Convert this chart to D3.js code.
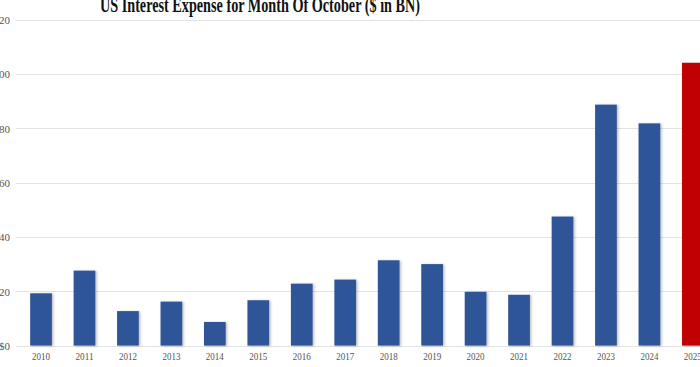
<!DOCTYPE html>
<html>
<head>
<meta charset="utf-8">
<script src="https://cdn.jsdelivr.net/npm/d3@7"></script>
<style>
  html, body { margin: 0; padding: 0; background: #fff; overflow: hidden; }
  svg { display: block; }
</style>
</head>
<body>
<svg id="chart" width="700" height="367"></svg>
<script>
const titleText = "US Interest Expense for Month Of October ($ in BN)";
const years = ["2010","2011","2012","2013","2014","2015","2016","2017","2018","2019","2020","2021","2022","2023","2024","2025"];
const values = [19.25, 27.6, 12.7, 16.2, 8.7, 16.7, 22.8, 24.3, 31.4, 30.0, 19.8, 18.7, 47.5, 88.7, 81.8, 104.1];
const yTicks = [0, 20, 40, 60, 80, 100, 120];
const highlightYear = "2025";

const svg = d3.select("#chart");
const W = 700, H = 367;

const x = d3.scaleBand()
  .domain(years)
  .range([19.3, 714.6])
  .paddingInner(0.5)
  .paddingOuter(0.25);

const y = d3.scaleLinear()
  .domain([0, 120])
  .range([345.6, 19.6]);

const defs = svg.append("defs");
const f = defs.append("filter").attr("id", "shadow")
  .attr("x", "-20%").attr("y", "-5%").attr("width", "150%").attr("height", "115%");
f.append("feDropShadow").attr("dx", 1.5).attr("dy", 0.5).attr("stdDeviation", 0.8)
  .attr("flood-color", "#000").attr("flood-opacity", 0.25);

// y axis labels (left part cropped like the reference)
const yAxis = d3.axisLeft(y)
  .tickValues(yTicks)
  .tickSize(0)
  .tickPadding(0)
  .tickFormat(d => "$" + d);

const gAxis = svg.append("g").attr("transform", "translate(10,0)").call(yAxis);
gAxis.select(".domain").remove();
gAxis.selectAll("text")
  .attr("font-family", "'Liberation Serif', 'Times New Roman', serif")
  .attr("font-size", 11)
  .attr("fill", "#555")
  .attr("dy", "0.35em");

// gridlines
const grid = svg.append("g");
grid.selectAll("line").data(yTicks).join("line")
  .attr("x1", 16).attr("x2", W)
  .attr("y1", d => Math.round(y(d)) + 0.5)
  .attr("y2", d => Math.round(y(d)) + 0.5)
  .attr("stroke", "#e3e3e3")
  .attr("stroke-width", 1);

// bars
svg.append("g").selectAll("rect").data(years).join("rect")
  .attr("x", d => x(d))
  .attr("width", x.bandwidth())
  .attr("y", (d, i) => y(values[i]))
  .attr("height", (d, i) => y(0) - y(values[i]))
  .attr("fill", d => d === highlightYear ? "#C00000" : "#2F5597")
  .attr("filter", "url(#shadow)");

// x labels
const xAxis = d3.axisBottom(x).tickSize(0).tickPadding(0);
const gx = svg.append("g").attr("transform", "translate(0,360)").call(xAxis);
gx.select(".domain").remove();
gx.selectAll("text")
  .attr("y", 0)
  .attr("dy", 0)
  .attr("font-family", "'Liberation Serif', 'Times New Roman', serif")
  .attr("font-size", 11)
  .attr("fill", "#555")
  .attr("textLength", 18)
  .attr("lengthAdjust", "spacingAndGlyphs");

// title
svg.append("text")
  .attr("x", 260)
  .attr("y", 12)
  .attr("text-anchor", "middle")
  .attr("font-family", "'Liberation Serif', 'Times New Roman', serif")
  .attr("font-weight", "bold")
  .attr("font-size", 20)
  .attr("fill", "#111")
  .attr("textLength", 320)
  .attr("lengthAdjust", "spacingAndGlyphs")
  .text(titleText);
</script>
</body>
</html>
